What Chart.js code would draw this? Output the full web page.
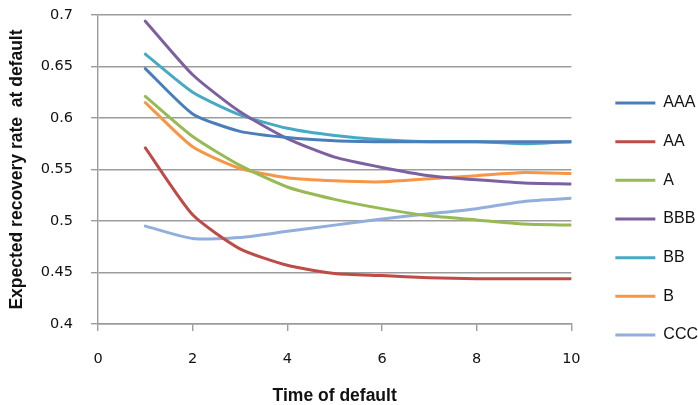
<!DOCTYPE html>
<html>
<head>
<meta charset="utf-8">
<title>Expected recovery rate at default</title>
<script src="https://cdn.jsdelivr.net/npm/chart.js@4.4.1/dist/chart.umd.min.js"></script>
<style>
  html, body { margin: 0; padding: 0; background: #fff; }
  #chart { display: block; }
</style>
</head>
<body>
<canvas id="chart" width="698" height="405"></canvas>
<script>
// Data
const timeOfDefault = [1, 2, 3, 4, 5, 6, 7, 8, 9, 10];

const ratingAAA = [0.648, 0.604, 0.587, 0.581, 0.578, 0.577, 0.577, 0.577, 0.577, 0.577];
const ratingAA  = [0.571, 0.506, 0.473, 0.457, 0.449, 0.447, 0.445, 0.444, 0.444, 0.444];
const ratingA   = [0.621, 0.582, 0.554, 0.533, 0.521, 0.512, 0.505, 0.501, 0.497, 0.496];
const ratingBBB = [0.694, 0.642, 0.606, 0.580, 0.562, 0.552, 0.544, 0.540, 0.537, 0.536];
const ratingBB  = [0.662, 0.625, 0.603, 0.590, 0.583, 0.579, 0.577, 0.577, 0.575, 0.577];
const ratingB   = [0.615, 0.572, 0.551, 0.542, 0.539, 0.538, 0.541, 0.544, 0.547, 0.546];
const ratingCCC = [0.495, 0.483, 0.484, 0.490, 0.496, 0.502, 0.507, 0.512, 0.519, 0.522];

const seriesNames  = ['AAA', 'AA', 'A', 'BBB', 'BB', 'B', 'CCC'];
const seriesColors = ['#4a7ebb', '#be4b48', '#98b954', '#7d60a0', '#46aac5', '#f79646', '#92aedb'];
const seriesValues = [ratingAAA, ratingAA, ratingA, ratingBBB, ratingBB, ratingB, ratingCCC];

const yTickValues = [0.4, 0.45, 0.5, 0.55, 0.6, 0.65, 0.7];
const yTickLabels = ['0.4', '0.45', '0.5', '0.55', '0.6', '0.65', '0.7'];
const xTickValues = [0, 2, 4, 6, 8, 10];
const xTickLabels = ['0', '2', '4', '6', '8', '10'];

const yTitle = 'Expected recovery rate  at default';
const xTitle = 'Time of default';

// Styling
const gridColor = '#9c9c9c';
const textColor = '#111';
const tickFont  = { family: 'DejaVu Sans', size: 14.5 };
const titleFont = { family: 'Liberation Sans', size: 17.5, weight: 'bold', lineHeight: 1 };

// Push the legend right/down, Excel leaves a gap between plot and legend
const legendNudge = {
  id: 'legendNudge',
  afterLayout(chart) {
    const lg = chart.legend;
    if (!lg) return;
    const dx = 21.3, dy = 9;
    lg.left += dx; lg.right += dx;
    lg.top += dy; lg.bottom += dy;
  }
};

const datasets = seriesNames.map((name, i) => ({
  label: name,
  data: timeOfDefault.map((t, j) => ({ x: t, y: seriesValues[i][j] })),
  borderColor: seriesColors[i],
  backgroundColor: seriesColors[i],
  borderWidth: 3,
  borderCapStyle: 'round',
  borderJoinStyle: 'round',
  pointRadius: 0,
  pointHoverRadius: 0,
  tension: 0.2,
  fill: false
}));

new Chart(document.getElementById('chart'), {
  type: 'line',
  data: { datasets },
  plugins: [legendNudge],
  options: {
    responsive: false,
    animation: false,
    devicePixelRatio: 1,
    layout: { padding: { left: 0, top: 15, right: 11.3, bottom: 0 } },
    plugins: {
      tooltip: { enabled: false },
      legend: {
        position: 'right',
        align: 'center',
        labels: {
          usePointStyle: true,
          pointStyle: 'line',
          pointStyleWidth: 40,
          padding: 22.67,
          color: textColor,
          font: { family: 'Liberation Sans', size: 16 }
        }
      }
    },
    scales: {
      x: {
        type: 'linear',
        min: 0,
        max: 10,
        afterBuildTicks: s => { s.ticks = xTickValues.map(v => ({ value: v })); },
        afterFit: s => { s.height = 81; },
        ticks: {
          color: textColor,
          font: tickFont,
          padding: 20,
          maxRotation: 0,
          callback: (v, i) => xTickLabels[i]
        },
        grid: { drawOnChartArea: false, drawTicks: true, tickLength: 7, color: gridColor, lineWidth: 1.4 },
        border: { color: gridColor, width: 1.4 },
        title: { display: true, text: xTitle, color: textColor, font: titleFont, padding: { top: 0, bottom: 0 } }
      },
      y: {
        min: 0.4,
        max: 0.7,
        afterBuildTicks: s => { s.ticks = yTickValues.map(v => ({ value: v })); },
        afterFit: s => { s.width = 98; s.paddingTop = 9; s.paddingBottom = 9; },
        ticks: {
          color: textColor,
          font: tickFont,
          padding: 18,
          callback: (v, i) => yTickLabels[i]
        },
        grid: { drawOnChartArea: true, drawTicks: true, tickLength: 7, color: gridColor, lineWidth: 1.4 },
        border: { color: gridColor, width: 1.4 },
        title: { display: true, text: yTitle, color: textColor, font: titleFont, padding: { top: 8, bottom: 0 } }
      }
    }
  }
});
</script>
</body>
</html>
